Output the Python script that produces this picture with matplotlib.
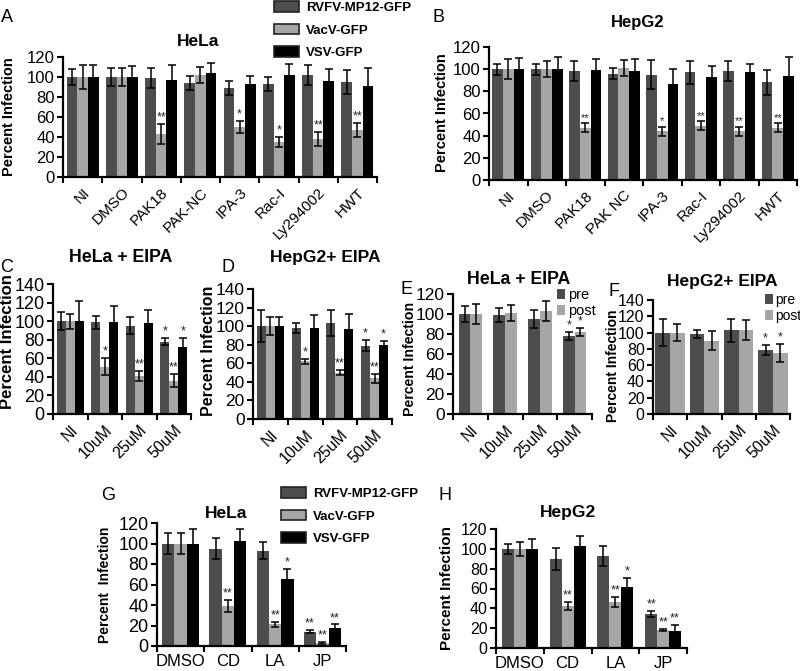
import numpy as np
import matplotlib
matplotlib.use("Agg")
import matplotlib.pyplot as plt
from matplotlib.patches import Patch

plt.rcParams["font.family"] = ["Liberation Sans", "DejaVu Sans"]

W, H = 800, 671
DARK, LIGHT, BLACK = "#4d4d4d", "#a6a6a6", "#000000"

# ---- panel A : HeLa ----
a_cats = ["NI", "DMSO", "PAK18", "PAK-NC", "IPA-3", "Rac-I", "Ly294002", "HWT"]
a_rvfv = [100, 100, 99, 94, 89, 93, 102, 95]
a_rvfv_err = [8, 9, 10, 7, 7, 7, 10, 12]
a_vacv = [100, 100, 43, 102, 50, 35, 38, 47]
a_vacv_err = [12, 9, 10, 8, 6, 5, 7, 7]
a_vsv = [100, 100, 97, 104, 93, 102, 96, 91]
a_vsv_err = [12, 11, 15, 10, 8, 11, 12, 18]
a_vacv_sig = ["", "", "**", "", "*", "*", "**", "**"]

# ---- panel B : HepG2 ----
b_cats = ["NI", "DMSO", "PAK18", "PAK NC", "IPA-3", "Rac-I", "Ly294002", "HWT"]
b_rvfv = [100, 100, 98, 96, 95, 97, 98, 88]
b_rvfv_err = [5, 5, 9, 5, 13, 10, 9, 11]
b_vacv = [100, 100, 47, 101, 44, 49, 44, 47]
b_vacv_err = [9, 7, 4, 7, 4, 4, 4, 4]
b_vsv = [100, 100, 99, 98, 87, 93, 97, 94]
b_vsv_err = [10, 11, 10, 11, 13, 10, 8, 17]
b_vacv_sig = ["", "", "**", "", "*", "**", "**", "**"]

# ---- panels C-F : EIPA ----
eipa_cats = ["NI", "10uM", "25uM", "50uM"]
c_rvfv = [100, 99, 95, 78]
c_rvfv_err = [10, 7, 9, 4]
c_vacv = [100, 51, 41, 36]
c_vacv_err = [8, 9, 5, 7]
c_vsv = [100, 99, 98, 72]
c_vsv_err = [22, 17, 14, 10]
c_sig = [["", "", "", "*"], ["", "*", "**", "**"], ["", "", "", "*"]]

d_rvfv = [100, 98, 103, 79]
d_rvfv_err = [17, 5, 14, 6]
d_vacv = [100, 62, 50, 44]
d_vacv_err = [10, 3, 3, 5]
d_vsv = [100, 98, 97, 80]
d_vsv_err = [10, 14, 16, 4]
d_sig = [["", "", "", "*"], ["", "*", "**", "**"], ["", "", "", "*"]]

e_pre = [100, 99, 95, 78]
e_pre_err = [8, 7, 9, 4]
e_post = [100, 101, 103, 82]
e_post_err = [10, 8, 10, 4]
e_sig = [["", "", "", "*"], ["", "", "", "*"]]

f_pre = [100, 98, 103, 79]
f_pre_err = [17, 5, 14, 6]
f_post = [100, 90, 103, 75]
f_post_err = [10, 12, 12, 11]
f_sig = [["", "", "", "*"], ["", "", "", "*"]]

# ---- panels G-H : inhibitors ----
gh_cats = ["DMSO", "CD", "LA", "JP"]
g_rvfv = [100, 95, 93, 14]
g_rvfv_err = [10, 10, 8, 1.5]
g_vacv = [100, 39, 21, 3]
g_vacv_err = [10, 6, 2, 0.6]
g_vsv = [100, 102, 65, 18]
g_vsv_err = [14, 12, 10, 3]
g_sig = [["", "", "", "**"], ["", "**", "**", "**"], ["", "", "*", "**"]]

h_rvfv = [100, 90, 93, 34]
h_rvfv_err = [5, 11, 10, 3]
h_vacv = [100, 42, 46, 18]
h_vacv_err = [7, 4, 5, 1]
h_vsv = [100, 103, 62, 17]
h_vsv_err = [10, 10, 9, 6]
h_sig = [["", "", "", "**"], ["", "**", "**", "**"], ["", "", "*", "**"]]

virus_labels = ["RVFV-MP12-GFP", "VacV-GFP", "VSV-GFP"]


def add_axes_px(fig, l, r, b, t):
    return fig.add_axes([l / W, 1 - b / H, (r - l) / W, (b - t) / H])


def panel(fig, box, ymax, cats, series, errs, sigs, colors, barw,
          ytick_fs, xtick_fs, xrot=45, star_fs=9):
    l, r, b, t = box
    ax = add_axes_px(fig, l, r, b, t)
    n = len(series)
    x = np.arange(len(cats))
    for i, (vals, err, sig, col) in enumerate(zip(series, errs, sigs, colors)):
        pos = x + (i - (n - 1) / 2) * barw
        ax.bar(pos, vals, width=barw, color=col, edgecolor="none", zorder=2)
        ax.errorbar(pos, vals, yerr=err, fmt="none", ecolor="black",
                    elinewidth=1.1, capsize=2.8, capthick=1.1, zorder=3)
        for p, v, e, s in zip(pos, vals, err, sig):
            if s:
                ax.text(p, v + e + 0.5, s, ha="center", va="bottom",
                        fontsize=star_fs, color="#222222")
    ax.set_xlim(-0.5, len(cats) - 0.5)
    ax.set_ylim(0, ymax)
    ax.set_yticks(np.arange(0, ymax + 1, 20))
    ax.set_xticks(x)
    if xrot:
        ax.set_xticklabels(cats, rotation=xrot, ha="right",
                           rotation_mode="anchor", fontsize=xtick_fs)
    else:
        ax.set_xticklabels(cats, fontsize=xtick_fs)
    ax.set_xticks(np.arange(-0.5, len(cats), 1.0), minor=True)
    ax.tick_params(axis="x", which="major", length=0, pad=6)
    ax.tick_params(axis="x", which="minor", length=4, width=1.5,
                   direction="out")
    ax.tick_params(axis="y", length=4, width=1.5, labelsize=ytick_fs, pad=2)
    for sp in ("top", "right"):
        ax.spines[sp].set_visible(False)
    for sp in ("left", "bottom"):
        ax.spines[sp].set_linewidth(1.6)
    return ax


def ylabel_px(fig, ax, box, xpx, ypx, text, fs):
    # xpx is the right edge of the rotated label
    l, r, b, t = box
    ax.set_ylabel(text, fontsize=fs, fontweight="bold")
    ax.yaxis.set_label_coords((xpx - l) / (r - l), (b - ypx) / (b - t))


def ftext(fig, xpx, ypx, s, **kw):
    fig.text(xpx / W, 1 - ypx / H, s, **kw)


fig = plt.figure(figsize=(W / 100, H / 100), dpi=100)
tri = [DARK, LIGHT, BLACK]

# A
boxA = (63, 377, 177, 57)
axA = panel(fig, boxA, 120, a_cats, [a_rvfv, a_vacv, a_vsv],
            [a_rvfv_err, a_vacv_err, a_vsv_err],
            [[""] * 8, a_vacv_sig, [""] * 8], tri, 0.27, 12, 11)
ylabel_px(fig, axA, boxA, 16, 117, "Percent Infection", 10.5)
ftext(fig, 198, 42, "HeLa", fontsize=12.5, fontweight="bold",
      ha="center", va="center")
ftext(fig, 7, 18, "A", fontsize=13, ha="center", va="center")

# B
boxB = (489, 797, 180, 47)
axB = panel(fig, boxB, 120, b_cats, [b_rvfv, b_vacv, b_vsv],
            [b_rvfv_err, b_vacv_err, b_vsv_err],
            [[""] * 8, b_vacv_sig, [""] * 8], tri, 0.28, 12, 11, star_fs=8)
ylabel_px(fig, axB, boxB, 449, 113, "Percent Infection", 10.5)
ftext(fig, 638, 23, "HepG2", fontsize=12, fontweight="bold",
      ha="center", va="center")
ftext(fig, 439, 18, "B", fontsize=13, ha="center", va="center")

# legend for A/B
handles = [Patch(facecolor=c, edgecolor="#222222", linewidth=1.2) for c in tri]
fig.legend(handles, virus_labels, loc="upper left",
           bbox_to_anchor=(274 / W, 1 - 1 / H), frameon=False,
           prop={"weight": "bold", "size": 9.5}, handlelength=1.9,
           handleheight=0.85, handletextpad=0.55, labelspacing=0.75,
           borderpad=0, borderaxespad=0)

# C
boxC = (53, 191, 414, 284)
axC = panel(fig, boxC, 140, eipa_cats, [c_rvfv, c_vacv, c_vsv],
            [c_rvfv_err, c_vacv_err, c_vsv_err], c_sig, tri, 0.26, 13, 11.5)
ylabel_px(fig, axC, boxC, 15, 342, "Percent Infection", 12)
ftext(fig, 121, 257, "HeLa + EIPA", fontsize=12.8, fontweight="bold",
      ha="center", va="center")
ftext(fig, 7, 267, "C", fontsize=13, ha="center", va="center")

# D
boxD = (253, 392, 419, 289)
axD = panel(fig, boxD, 140, eipa_cats, [d_rvfv, d_vacv, d_vsv],
            [d_rvfv_err, d_vacv_err, d_vsv_err], d_sig, tri, 0.26, 12.5, 11.5)
ylabel_px(fig, axD, boxD, 216, 351, "Percent Infection", 11.5)
ftext(fig, 325, 257, "HepG2+ EIPA", fontsize=12.5, fontweight="bold",
      ha="center", va="center")
ftext(fig, 228, 267, "D", fontsize=13, ha="center", va="center")

# E
boxE = (453, 592, 414, 294)
axE = panel(fig, boxE, 120, eipa_cats, [e_pre, e_post],
            [e_pre_err, e_post_err], e_sig, [DARK, LIGHT], 0.335, 12.5, 11.5)
ylabel_px(fig, axE, boxE, 417, 359, "Percent Infection", 10.2)
ftext(fig, 519, 280, "HeLa + EIPA", fontsize=12.8, fontweight="bold",
      ha="center", va="center")
ftext(fig, 407, 290, "E", fontsize=13, ha="center", va="center")
axE.legend(axE.containers[0:1] + axE.containers[2:3], ["pre", "post"],
           loc="upper left",
           bbox_to_anchor=((557 - 453) / 139, (414 - 288) / 120),
           frameon=False, fontsize=10.5, handlelength=0.55, handleheight=0.7,
           handletextpad=0.2, labelspacing=0.15, borderpad=0, borderaxespad=0)

# F
boxF = (653, 790, 414, 300)
axF = panel(fig, boxF, 140, eipa_cats, [f_pre, f_post],
            [f_pre_err, f_post_err], f_sig, [DARK, LIGHT], 0.43, 11.5, 11.5)
ylabel_px(fig, axF, boxF, 620, 366, "Percent Infection", 10)
ftext(fig, 614, 291, "F", fontsize=13, ha="center", va="center")
ftext(fig, 722, 282, "HepG2+ EIPA", fontsize=12.5, fontweight="bold",
      ha="center", va="center")
axF.legend(axF.containers[0:1] + axF.containers[2:3], ["pre", "post"],
           loc="upper left",
           bbox_to_anchor=((765 - 653) / 137, (414 - 293) / 114),
           frameon=False, fontsize=10, handlelength=0.55, handleheight=0.7,
           handletextpad=0.2, labelspacing=0.15, borderpad=0, borderaxespad=0)

# G
boxG = (157, 346, 646, 523)
axG = panel(fig, boxG, 120, gh_cats, [g_rvfv, g_vacv, g_vsv],
            [g_rvfv_err, g_vacv_err, g_vsv_err], g_sig, tri, 0.26, 13, 12,
            xrot=0)
ylabel_px(fig, axG, boxG, 112, 585, "Percent  Infection", 10)
ftext(fig, 226, 513, "HeLa", fontsize=12.5, fontweight="bold",
      ha="center", va="center")
ftext(fig, 108, 495, "G", fontsize=13, ha="center", va="center")
fig.legend(handles, virus_labels, loc="upper left",
           bbox_to_anchor=(281 / W, 1 - 487 / H), frameon=False,
           prop={"weight": "bold", "size": 9.5}, handlelength=1.9,
           handleheight=0.85, handletextpad=0.55, labelspacing=0.75,
           borderpad=0, borderaxespad=0)

# H
boxH = (496, 687, 648, 529)
axH = panel(fig, boxH, 120, gh_cats, [h_rvfv, h_vacv, h_vsv],
            [h_rvfv_err, h_vacv_err, h_vsv_err], h_sig, tri, 0.25, 11.5, 12,
            xrot=0)
ylabel_px(fig, axH, boxH, 454, 588, "Percent Infection", 11)
ftext(fig, 568, 513, "HepG2", fontsize=12.5, fontweight="bold",
      ha="center", va="center")
ftext(fig, 445, 496, "H", fontsize=13, ha="center", va="center")

fig.savefig("out.png", dpi=100)
